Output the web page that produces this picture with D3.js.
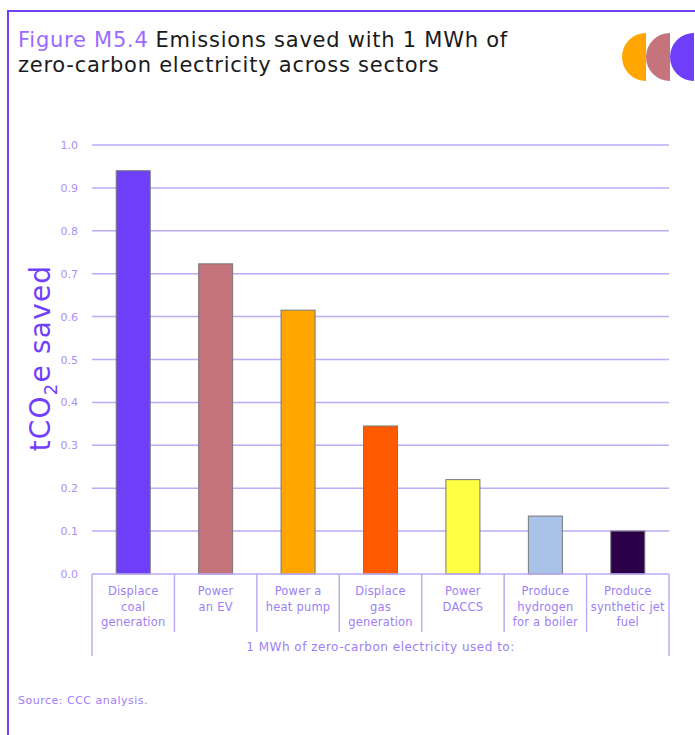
<!DOCTYPE html>
<html>
<head>
<meta charset="utf-8">
<script src="https://cdn.jsdelivr.net/npm/d3@7"></script>
<style>
  body { margin: 0; background: #fff; }
  svg { display: block; font-family: "DejaVu Sans", "Noto Sans", sans-serif; }
</style>
</head>
<body>
<div id="chart"></div>
<script>
// chart data
var categories = ["coal", "ev", "heatpump", "gas", "daccs", "hydrogen", "jetfuel"];
var labelLines = [
  ["Displace", "coal", "generation"],
  ["Power", "an EV"],
  ["Power a", "heat pump"],
  ["Displace", "gas", "generation"],
  ["Power", "DACCS"],
  ["Produce", "hydrogen", "for a boiler"],
  ["Produce", "synthetic jet", "fuel"]
];
var values = [0.94, 0.723, 0.615, 0.345, 0.22, 0.135, 0.10];
var barColors = ["#6e3ef9", "#c6747b", "#ffa600", "#ff5a00", "#ffff44", "#a9c3e8", "#2c0049"];
var yTicks = [0, 0.1, 0.2, 0.3, 0.4, 0.5, 0.6, 0.7, 0.8, 0.9, 1.0];

var W = 695, H = 735;
var purple = "#7140fb", light = "#bdaaf8", textPurple = "#9c7ff5";

var svg = d3.select("#chart").append("svg")
  .attr("width", W).attr("height", H);

// frame
svg.append("line").attr("x1", 7).attr("x2", W).attr("y1", 11).attr("y2", 11)
  .attr("stroke", purple).attr("stroke-width", 2);
svg.append("line").attr("x1", 8).attr("x2", 8).attr("y1", 10).attr("y2", H)
  .attr("stroke", purple).attr("stroke-width", 2);

// title, one text block with two lines
var title = svg.append("text").attr("x", 18).attr("y", 47)
  .style("font-size", "21px").style("letter-spacing", "0.75px").attr("fill", "#1a1a1a");
title.append("tspan").attr("fill", "#9b6bff").text("Figure M5.4");
title.append("tspan").attr("dx", 7).text("Emissions saved with 1 MWh of");
title.append("tspan").attr("x", 18).attr("dy", 25).text("zero-carbon electricity across sectors");

// logo: three half discs
var logo = [["#ffa600", 646], ["#c6747b", 670], ["#6e3ef9", 694]];
logo.forEach(function(d) {
  svg.append("path")
    .attr("d", d3.arc()({innerRadius: 0, outerRadius: 24, startAngle: Math.PI, endAngle: 2 * Math.PI}))
    .attr("transform", "translate(" + d[1] + ",57)")
    .attr("fill", d[0]);
});

var x0 = 92, x1 = 669, yTop = 145, yBot = 574;

var x = d3.scaleBand().domain(categories).range([x0, x1]).paddingInner(0).paddingOuter(0);
var y = d3.scaleLinear().domain([0, 1]).range([yBot, yTop]);

// gridlines
svg.append("g").selectAll("line").data(yTicks.slice(1)).join("line")
  .attr("x1", x0).attr("x2", x1)
  .attr("y1", function(d) { return y(d); }).attr("y2", function(d) { return y(d); })
  .attr("stroke", light).attr("stroke-width", 1.5);

// y axis labels
svg.append("g").selectAll("text").data(yTicks).join("text")
  .attr("x", 78).attr("y", function(d) { return y(d) + 4; })
  .attr("text-anchor", "end")
  .style("font-size", "11px").attr("fill", "#a98ff6")
  .text(function(d) { return d3.format(".1f")(d); });

// y axis title
var yt = svg.append("text")
  .attr("transform", "translate(50,358) rotate(-90)")
  .attr("text-anchor", "middle")
  .style("font-size", "28px").style("letter-spacing", "1.2px").attr("fill", purple);
yt.append("tspan").text("tCO");
yt.append("tspan").attr("dy", 7).style("font-size", "18px").text("2");
yt.append("tspan").attr("dy", -7).text("e saved");

// bars
var bw = 34;
svg.append("g").selectAll("rect").data(values).join("rect")
  .attr("x", function(d, i) { return x(categories[i]) + (x.bandwidth() - bw) / 2; })
  .attr("width", bw)
  .attr("y", function(d) { return y(d); })
  .attr("height", function(d) { return yBot - y(d); })
  .attr("fill", function(d, i) { return barColors[i]; })
  .attr("stroke", "#777").attr("stroke-width", 1);

// category axis
var ax = svg.append("g").attr("stroke", light).attr("stroke-width", 1.5);
ax.append("line").attr("x1", x0).attr("x2", x1).attr("y1", yBot).attr("y2", yBot);
categories.forEach(function(c, i) {
  if (i > 0) {
    ax.append("line").attr("x1", x(c)).attr("x2", x(c)).attr("y1", yBot).attr("y2", 632);
  }
});
ax.append("line").attr("x1", x0).attr("x2", x0).attr("y1", yBot).attr("y2", 656);
ax.append("line").attr("x1", x1).attr("x2", x1).attr("y1", yBot).attr("y2", 656);

// category labels
labelLines.forEach(function(lines, i) {
  var cx = x(categories[i]) + x.bandwidth() / 2;
  lines.forEach(function(t, j) {
    svg.append("text").attr("x", cx).attr("y", 595 + j * 15.5)
      .attr("text-anchor", "middle")
      .style("font-size", "11.5px").style("letter-spacing", "0.2px").attr("fill", textPurple)
      .text(t);
  });
});

svg.append("text").attr("x", (x0 + x1) / 2).attr("y", 651)
  .attr("text-anchor", "middle")
  .style("font-size", "12px").style("letter-spacing", "0.5px").attr("fill", textPurple)
  .text("1 MWh of zero-carbon electricity used to:");

// source
svg.append("text").attr("x", 18).attr("y", 704)
  .style("font-size", "11px").style("letter-spacing", "0.5px").attr("fill", "#a07cf8")
  .text("Source: CCC analysis.");
</script>
</body>
</html>
